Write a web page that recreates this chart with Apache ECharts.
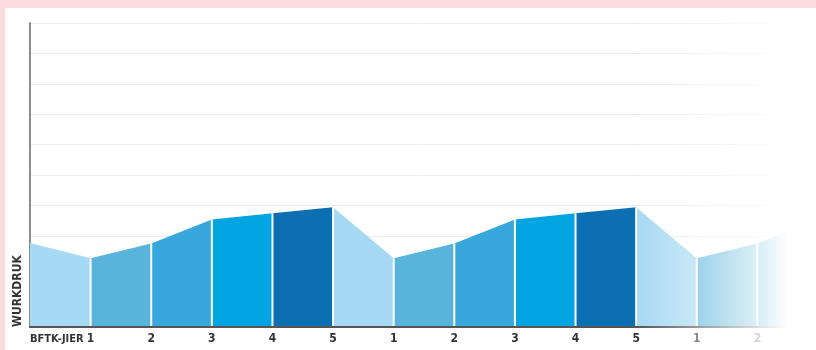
<!DOCTYPE html>
<html>
<head>
<meta charset="utf-8">
<script src="https://cdn.jsdelivr.net/npm/echarts@6/dist/echarts.min.js"></script>
<style>
  body { margin: 0; }
  #wrap { width: 816px; height: 350px; background: #fcdcdd; padding: 8px 0 0 5px; box-sizing: border-box; }
  #chart { width: 811px; height: 342px; background: #fff; }
</style>
</head>
<body>
<div id="wrap"><div id="chart"></div></div>
<script>
  // workload per school-year step, repeating cycle
  var categories = ['BFTK-JIER', '1', '2', '3', '4', '5', '1', '2', '3', '4', '5', '1', '2', '3'];
  var values = [2.76, 2.26, 2.75, 3.54, 3.74, 3.94, 2.26, 2.75, 3.54, 3.74, 3.94, 2.26, 2.75, 3.54];
  var stepColors = { '1': '#a6d9f3', '2': '#59b4dc', '3': '#37a7dc', '4': '#02a4e1', '5': '#0b6fb2' };
  var yTicks = [0, 10, 1];

  var chart = echarts.init(document.getElementById('chart'));
  var font = '"DejaVu Sans Condensed", "DejaVu Sans", sans-serif';

  var xData = categories.map(function (c, i) {
    return i === 0 ? { value: c, textStyle: { align: 'left', fontSize: 11, padding: [1, 0, 0, 0] } } : c;
  });

  var series = [];
  for (var i = 1; i < categories.length; i++) {
    var d = values.map(function () { return null; });
    d[i - 1] = values[i - 1];
    d[i] = values[i];
    series.push({
      type: 'line',
      data: d,
      symbol: 'none',
      silent: true,
      lineStyle: { width: 0 },
      areaStyle: { color: stepColors[categories[i]], opacity: 1 },
      z: 2
    });
  }
  // thin white separators between the columns
  series.push({
    type: 'bar',
    data: values.map(function (v, i) { return i === 0 ? null : v; }),
    barWidth: 2,
    silent: true,
    itemStyle: { color: '#ffffff' },
    z: 3
  });

  var option = {
    animation: false,
    grid: { left: 25, right: -2, top: 15, bottom: 23, outerBoundsMode: 'none' },
    xAxis: {
      type: 'category',
      boundaryGap: false,
      data: xData,
      axisLine: { lineStyle: { color: '#555', width: 2 } },
      axisTick: { show: false },
      axisLabel: {
        color: '#333', fontFamily: font, fontWeight: 'bold', fontSize: 12,
        margin: 6, interval: 0
      },
      splitLine: { show: false },
      z: 5
    },
    yAxis: {
      type: 'value',
      min: yTicks[0],
      max: yTicks[1],
      interval: yTicks[2],
      axisLine: { show: true, lineStyle: { color: '#8c8c8c', width: 2 } },
      axisTick: { show: false },
      axisLabel: { show: false },
      splitLine: { lineStyle: { color: '#ebebeb', width: 1 } }
    },
    graphic: [
      {
        type: 'text',
        x: 13,
        y: 319,
        rotation: Math.PI / 2,
        style: {
          text: 'WURKDRUK',
          fill: '#333',
          font: 'bold 12px ' + font,
          textAlign: 'left',
          textVerticalAlign: 'middle'
        },
        z: 10
      },
      {
        // fade-out on the right
        type: 'rect',
        shape: { x: 630, y: 0, width: 181, height: 342 },
        style: {
          fill: new echarts.graphic.LinearGradient(0, 0, 1, 0, [
            { offset: 0, color: 'rgba(255,255,255,0)' },
            { offset: 0.85, color: 'rgba(255,255,255,1)' },
            { offset: 1, color: 'rgba(255,255,255,1)' }
          ])
        },
        silent: true,
        z: 100
      }
    ],
    series: series
  };

  chart.setOption(option);
</script>
</body>
</html>
